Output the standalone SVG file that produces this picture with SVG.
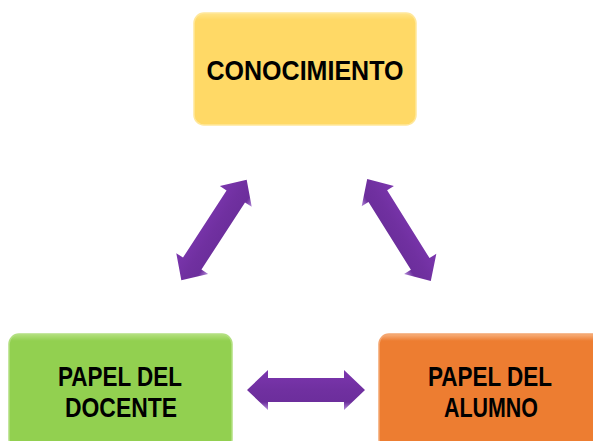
<svg xmlns="http://www.w3.org/2000/svg" width="593" height="441" viewBox="0 0 593 441">
  <defs>
    <linearGradient id="gY" x1="0" y1="0" x2="0" y2="1">
      <stop offset="0" stop-color="#FFE48A"/>
      <stop offset="0.06" stop-color="#FFD966"/>
      <stop offset="1" stop-color="#FFD966"/>
    </linearGradient>
    <linearGradient id="gG" x1="0" y1="0" x2="0" y2="1">
      <stop offset="0" stop-color="#B4E07F"/>
      <stop offset="0.06" stop-color="#92D050"/>
      <stop offset="1" stop-color="#92D050"/>
    </linearGradient>
    <linearGradient id="gO" x1="0" y1="0" x2="0" y2="1">
      <stop offset="0" stop-color="#F7B07D"/>
      <stop offset="0.06" stop-color="#ED7D31"/>
      <stop offset="1" stop-color="#ED7D31"/>
    </linearGradient>
    <linearGradient id="gA" x1="0" y1="0" x2="0" y2="1">
      <stop offset="0" stop-color="#7B36AE"/>
      <stop offset="0.5" stop-color="#7030A0"/>
      <stop offset="0.8" stop-color="#6C2E9C"/>
      <stop offset="1" stop-color="#B48BDA"/>
    </linearGradient>
    <path id="diag" d="M -60 0 L -40 -19 L -40 -11 L 40 -11 L 40 -19 L 60 0 L 40 19 L 40 11 L -40 11 L -40 19 Z"/>
  </defs>
  <style>
    .lbl { font-family: "Liberation Sans", Arial, sans-serif; font-weight: bold; font-size: 28px; fill: #000; text-anchor: middle; }
    .arrow { fill: url(#gA); }
  </style>
  <rect width="593" height="441" fill="#FFFFFF"/>

  <g id="connectors">
    <use href="#diag" class="arrow" transform="translate(214 230) rotate(-57)"/>
    <use href="#diag" class="arrow" transform="translate(399 230) rotate(58)"/>
    <path class="arrow" transform="translate(306 390)" d="M -59 0 L -38 -20 L -38 -12 L 38 -12 L 38 -20 L 59 0 L 38 20 L 38 12 L -38 12 L -38 20 Z"/>
  </g>

  <g id="node-conocimiento">
    <rect x="194" y="13" width="222" height="112" rx="10" fill="url(#gY)" stroke="#FFE79A" stroke-width="1.5"/>
    <text class="lbl" x="305" y="80" textLength="197" lengthAdjust="spacingAndGlyphs">CONOCIMIENTO</text>
  </g>

  <g id="node-docente">
    <rect x="9" y="334" width="223" height="115" rx="10" fill="url(#gG)" stroke="#B2DF80" stroke-width="1.5"/>
    <text class="lbl" x="120" y="386" textLength="124" lengthAdjust="spacingAndGlyphs">PAPEL DEL</text>
    <text class="lbl" x="121" y="417" textLength="112" lengthAdjust="spacingAndGlyphs">DOCENTE</text>
  </g>

  <g id="node-alumno">
    <rect x="379" y="334" width="223" height="115" rx="10" fill="url(#gO)" stroke="#F4A56F" stroke-width="1.5"/>
    <text class="lbl" x="490" y="386" textLength="124" lengthAdjust="spacingAndGlyphs">PAPEL DEL</text>
    <text class="lbl" x="491" y="417" textLength="94" lengthAdjust="spacingAndGlyphs">ALUMNO</text>
  </g>
</svg>
